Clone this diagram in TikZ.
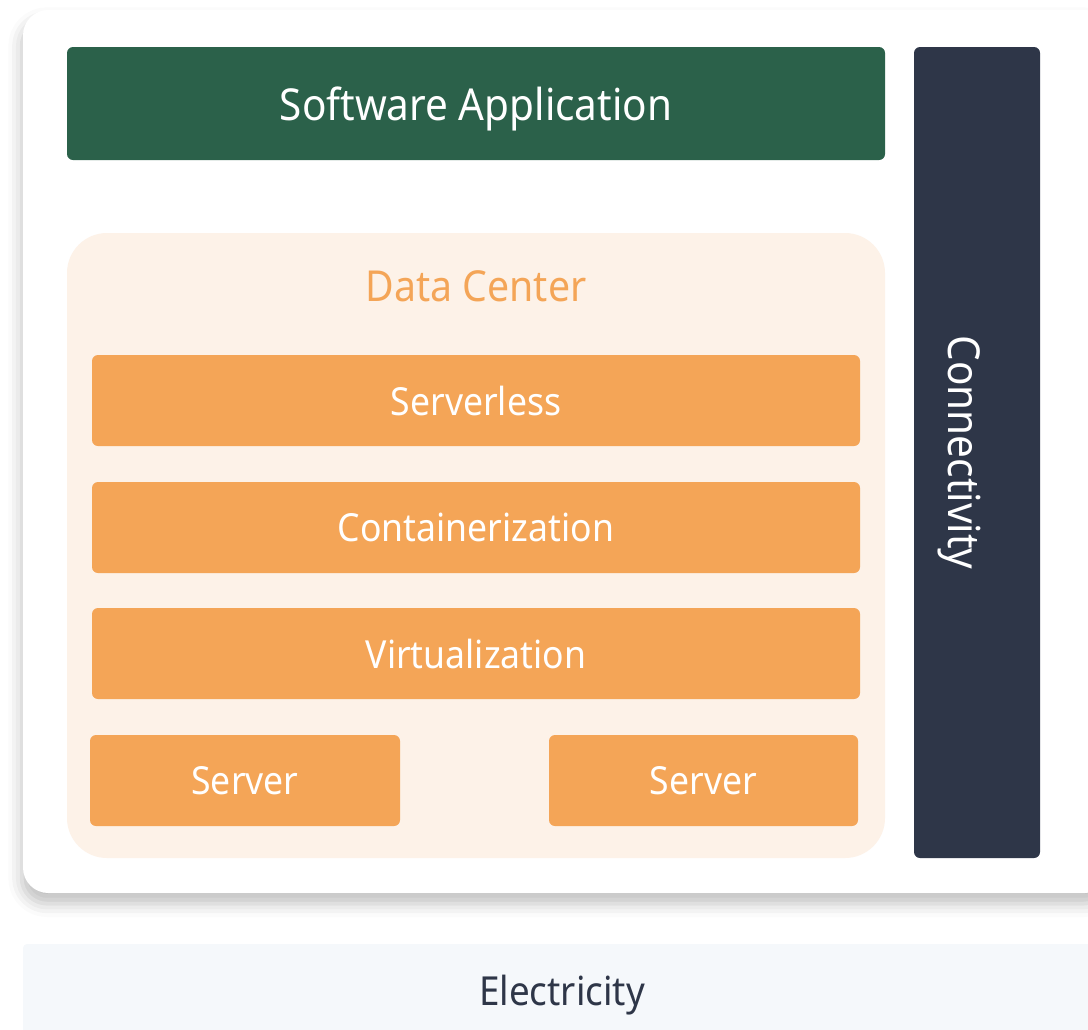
\documentclass[tikz,border=0pt]{standalone}
\usepackage{fontspec}
\setmainfont{Noto Sans}[FakeStretch=0.92]
\usetikzlibrary{shadows.blur}

\definecolor{appgreen}{HTML}{2B614A}
\definecolor{netdark}{HTML}{2E3648}
\definecolor{layerorange}{HTML}{F4A557}
\definecolor{dcpeach}{HTML}{FDF2E8}
\definecolor{powerbg}{HTML}{F5F8FB}

\tikzset{
  px/.style={x=0.75pt, y=-0.75pt},
  layer/.style={fill=layerorange, rounded corners=4.5pt, inner sep=0pt, text depth=0pt,
    minimum height=91*0.75pt, text=white, font=\fontsize{29}{35}\selectfont},
}

\begin{document}
\begin{tikzpicture}[px]
\useasboundingbox (0,0) rectangle (1088,1029);

% card with shadow
\fill[white, rounded corners=19pt,
  blur shadow={shadow xshift=-1pt, shadow yshift=-8pt, shadow blur radius=10pt, shadow opacity=25}]
  (23,10) rectangle (1110,893);

% top layer and side bar
\node[fill=appgreen, rounded corners=4.5pt, inner sep=0pt, text depth=0pt, minimum width=818*0.75pt,
  minimum height=113*0.75pt, text=white, font=\fontsize{33}{39}\selectfont]
  (app) at (476,103.5) {Software Application};
\node[fill=netdark, rounded corners=4.5pt, inner sep=0pt, minimum width=126*0.75pt,
  minimum height=811*0.75pt] (conn) at (977,452.5) {};
\node[rotate=-90, text=white, text depth=0pt, font=\fontsize{33}{39}\selectfont]
  (connlabel) at (965,452.5) {Connectivity};

% data center
\node[fill=dcpeach, rounded corners=30pt, inner sep=0pt, minimum width=818*0.75pt,
  minimum height=625*0.75pt] (dc) at (476,545.5) {};
\node[text=layerorange, text depth=0pt, font=\fontsize{32}{38}\selectfont] (dctitle) at (476,286) {Data Center};

\node[layer, minimum width=768*0.75pt] (sless) at (476,400.5) {Serverless};
\node[layer, minimum width=768*0.75pt] (cont) at (476,527.5) {Containerization};
\node[layer, minimum width=768*0.75pt] (virt) at (476,653.5) {Virtualization};
\node[layer, minimum width=310*0.75pt] (srvA) at (245,780.5) {Server};
\node[layer, minimum width=309*0.75pt] (srvB) at (703.5,780.5) {Server};

% power strip
\fill[powerbg, rounded corners=3pt] (23,944) rectangle (1110,1045);
\node[text=netdark, text depth=0pt, font=\fontsize{30}{36}\selectfont] (power) at (562,990) {Electricity};

\end{tikzpicture}
\end{document}
